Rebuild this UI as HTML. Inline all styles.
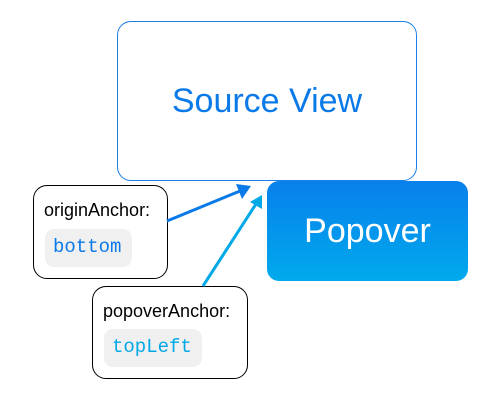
<!DOCTYPE html>
<html><head><style>
body{margin:0;width:500px;height:400px;background:#fff;position:relative;overflow:hidden;font-family:"Liberation Sans",sans-serif}
.a{position:absolute;box-sizing:border-box}
</style></head><body>
<div class="a" style="left:117px;top:21px;width:300px;height:160px;border:1px solid #1a7fe6;border-radius:14px;display:flex;align-items:center;justify-content:center;color:#0a7ae8;font-size:34px">Source View</div>
<div class="a" style="left:267px;top:181px;width:201px;height:100px;border-radius:12px;background:linear-gradient(#0880ec,#00aaec);display:flex;align-items:center;justify-content:center;color:#fff;font-size:34px">Popover</div>
<div class="a" style="left:33px;top:185px;width:135px;height:94px;border:1px solid #000;border-radius:14px;background:#fff">
 <div class="a" style="left:10px;top:14px;font-size:18px;color:#000">originAnchor:</div>
 <div class="a" style="left:11px;top:43px;width:87px;height:38px;background:#f0f0f0;border-radius:9px;color:#0a7ae8;font-family:'Liberation Mono',monospace;font-size:19px;padding:7px 0 0 8px">bottom</div>
</div>
<div class="a" style="left:92px;top:286px;width:156px;height:93px;border:1px solid #000;border-radius:14px;background:#fff">
 <div class="a" style="left:10px;top:14px;font-size:18px;color:#000">popoverAnchor:</div>
 <div class="a" style="left:11px;top:42px;width:98px;height:38px;background:#f0f0f0;border-radius:9px;color:#00a8e8;font-family:'Liberation Mono',monospace;font-size:19px;padding:7px 0 0 8px">topLeft</div>
</div>
<svg class="a" style="left:0;top:0" width="500" height="400">
<line x1="167" y1="221" x2="240" y2="191" stroke="#0a7ae8" stroke-width="3"/>
<polygon points="251,186 236,184 242,199" fill="#0a7ae8"/>
<line x1="203" y1="286" x2="256" y2="204" stroke="#00a8e8" stroke-width="3"/>
<polygon points="262,195 250,202 262,209" fill="#00a8e8"/>
</svg>
</body></html>
